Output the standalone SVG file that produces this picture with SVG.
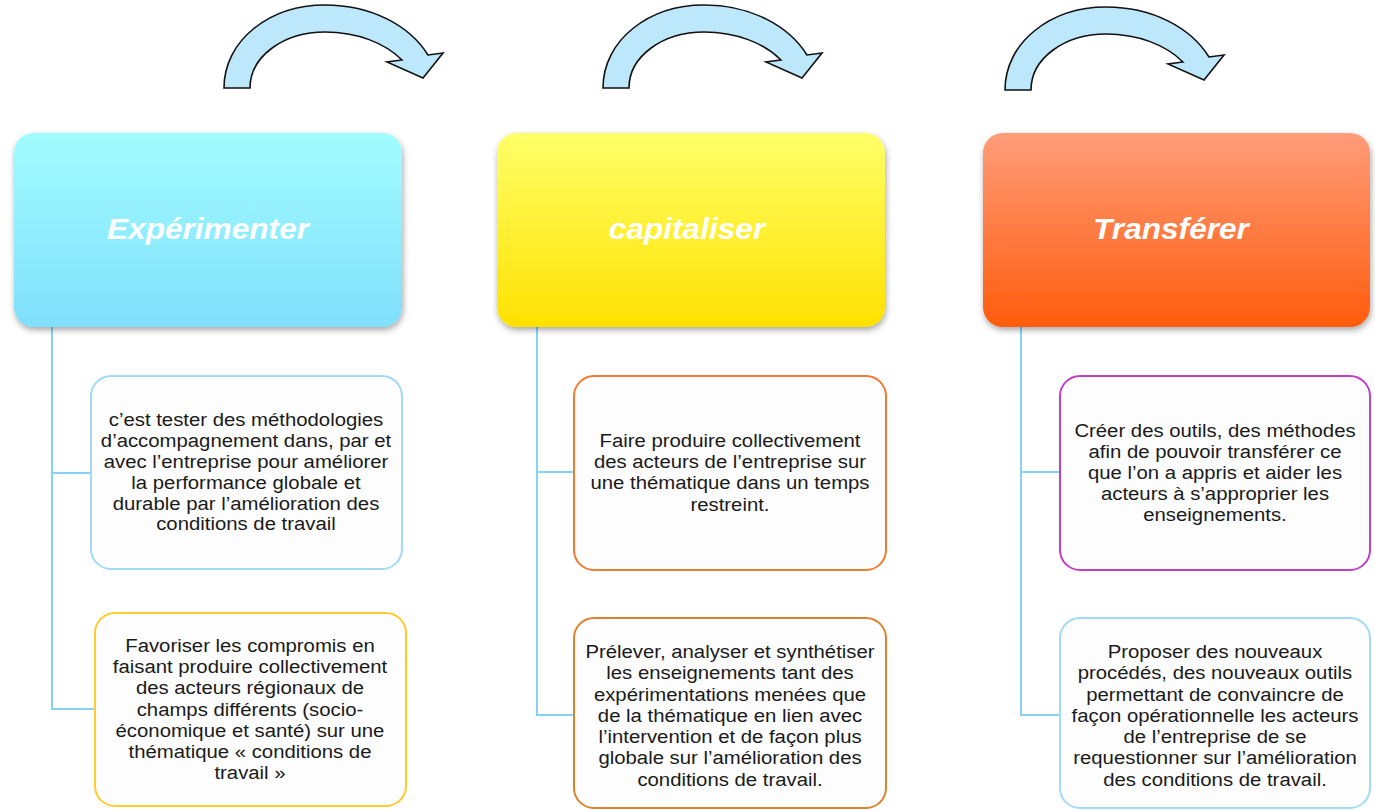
<svg xmlns="http://www.w3.org/2000/svg" xmlns:xlink="http://www.w3.org/1999/xlink" width="1375" height="810" viewBox="0 0 1375 810">
<style>
.hdr{stroke:none}
.htxt{font-family:"Liberation Sans",Arial,sans-serif;font-size:29px;font-weight:bold;font-style:italic;fill:#ffffff;text-anchor:middle}
.box{fill:#fdfdfd;stroke-width:2}
.btxt{font-family:"Liberation Sans",Arial,sans-serif;font-size:18px;fill:#1a1a1a;text-anchor:middle}
.conn{fill:none;stroke:#86d2f5;stroke-width:2}
.arrow{fill:#bde8fb;stroke:#111;stroke-width:1.6;stroke-linejoin:miter}
</style>
<defs>
<linearGradient id="g1" x1="0" y1="0" x2="0" y2="1"><stop offset="0" stop-color="#a1fcff"/><stop offset="1" stop-color="#80dffb"/></linearGradient>
<linearGradient id="g2" x1="0" y1="0" x2="0" y2="1"><stop offset="0" stop-color="#ffff68"/><stop offset="1" stop-color="#ffe100"/></linearGradient>
<linearGradient id="g3" x1="0" y1="0" x2="0" y2="1"><stop offset="0" stop-color="#ff9c7a"/><stop offset="1" stop-color="#ff5c0c"/></linearGradient>
<filter id="sh" x="-10%" y="-10%" width="125%" height="130%"><feDropShadow dx="1" dy="3" stdDeviation="3" flood-color="#000" flood-opacity="0.35"/></filter>
<path id="carc" d="M224,88 C224,40 270,5 325,5 C372,5 410,26 428,55 L443,53 L423,78 L387,62 L402,60 C385,43 357,32 325,32 C284,32 250,56 250,88 Z"/>
</defs>
<rect width="1375" height="810" fill="#ffffff"/>

<g id="connectors">
<use xlink:href="#carc" class="arrow"/>
<use xlink:href="#carc" class="arrow" transform="translate(379,0)"/>
<use xlink:href="#carc" class="arrow" transform="translate(781,2)"/>
<path class="conn" d="M52,327 V709 H95 M52,473 H91"/>
<path class="conn" d="M537,327 V715 H574 M537,472 H574"/>
<path class="conn" d="M1021,327 V715 H1060 M1021,472 H1060"/>
</g>

<g id="h1"><rect class="hdr" x="14" y="133" width="388" height="194" rx="20" fill="url(#g1)" filter="url(#sh)"/><text class="htxt" transform="translate(208,0) scale(1.09,1)" x="0" y="239">Expérimenter</text></g>
<g id="h2"><rect class="hdr" x="497" y="133" width="388" height="194" rx="20" fill="url(#g2)" filter="url(#sh)"/><text class="htxt" transform="translate(687,0) scale(1.09,1)" x="0" y="239">capitaliser</text></g>
<g id="h3"><rect class="hdr" x="983" y="133" width="387" height="194" rx="20" fill="url(#g3)" filter="url(#sh)"/><text class="htxt" transform="translate(1171,0) scale(1.09,1)" x="0" y="239">Transférer</text></g>

<g id="b11"><rect class="box" x="91" y="376" width="311" height="193" rx="20" stroke="#a0daf6"/>
<text class="btxt" transform="translate(246,0) scale(1.13,1)" y="426"><tspan x="0">c’est tester des méthodologies</tspan><tspan x="0" dy="20.9">d’accompagnement dans, par et</tspan><tspan x="0" dy="20.9">avec l’entreprise pour améliorer</tspan><tspan x="0" dy="20.9">la performance globale et</tspan><tspan x="0" dy="20.9">durable par l’amélioration des</tspan><tspan x="0" dy="20.9">conditions de travail</tspan></text></g>

<g id="b12"><rect class="box" x="95" y="613" width="311" height="193" rx="20" stroke="#ffcc2e"/>
<text class="btxt" transform="translate(250,0) scale(1.13,1)" y="652"><tspan x="0">Favoriser les compromis en</tspan><tspan x="0" dy="21.2">faisant produire collectivement</tspan><tspan x="0" dy="21.2">des acteurs régionaux de</tspan><tspan x="0" dy="21.2">champs différents (socio-</tspan><tspan x="0" dy="21.2">économique et santé) sur une</tspan><tspan x="0" dy="21.2">thématique « conditions de</tspan><tspan x="0" dy="21.2">travail »</tspan></text></g>

<g id="b21"><rect class="box" x="574" y="376" width="312" height="194" rx="20" stroke="#f07b32"/>
<text class="btxt" transform="translate(730,0) scale(1.13,1)" y="447"><tspan x="0">Faire produire collectivement</tspan><tspan x="0" dy="21.2">des acteurs de l’entreprise sur</tspan><tspan x="0" dy="21.2">une thématique dans un temps</tspan><tspan x="0" dy="21.2">restreint.</tspan></text></g>

<g id="b22"><rect class="box" x="574" y="618" width="312" height="190" rx="20" stroke="#dc812c"/>
<text class="btxt" transform="translate(730,0) scale(1.13,1)" y="658"><tspan x="0">Prélever, analyser et synthétiser</tspan><tspan x="0" dy="21.3">les enseignements tant des</tspan><tspan x="0" dy="21.3">expérimentations menées que</tspan><tspan x="0" dy="21.3">de la thématique en lien avec</tspan><tspan x="0" dy="21.3">l’intervention et de façon plus</tspan><tspan x="0" dy="21.3">globale sur l’amélioration des</tspan><tspan x="0" dy="21.3">conditions de travail.</tspan></text></g>

<g id="b31"><rect class="box" x="1060" y="376" width="310" height="194" rx="20" stroke="#c040c4"/>
<text class="btxt" transform="translate(1215,0) scale(1.13,1)" y="437"><tspan x="0">Créer des outils, des méthodes</tspan><tspan x="0" dy="21.1">afin de pouvoir transférer ce</tspan><tspan x="0" dy="21.1">que l’on a appris et aider les</tspan><tspan x="0" dy="21.1">acteurs à s’approprier les</tspan><tspan x="0" dy="21.1">enseignements.</tspan></text></g>

<g id="b32"><rect class="box" x="1060" y="618" width="310" height="190" rx="20" stroke="#a0daf6"/>
<text class="btxt" transform="translate(1215,0) scale(1.13,1)" y="658"><tspan x="0">Proposer des nouveaux</tspan><tspan x="0" dy="21.3">procédés, des nouveaux outils</tspan><tspan x="0" dy="21.3">permettant de convaincre de</tspan><tspan x="0" dy="21.3">façon opérationnelle les acteurs</tspan><tspan x="0" dy="21.3">de l’entreprise de se</tspan><tspan x="0" dy="21.3">requestionner sur l’amélioration</tspan><tspan x="0" dy="21.3">des conditions de travail.</tspan></text></g>
</svg>
